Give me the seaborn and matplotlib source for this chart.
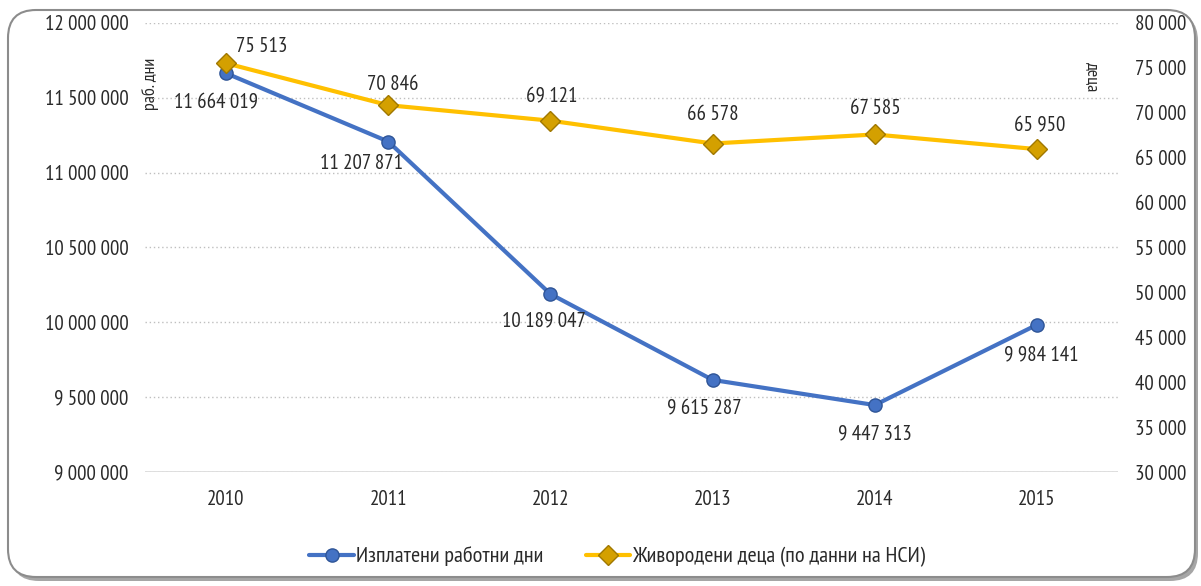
import matplotlib.pyplot as plt
import seaborn as sns
import pandas as pd
import numpy as np
from matplotlib.patches import FancyBboxPatch
from matplotlib.ticker import FuncFormatter

# данни
years = [2010, 2011, 2012, 2013, 2014, 2015]
work_days = [11664019, 11207871, 10189047, 9615287, 9447313, 9984141]
births = [75513, 70846, 69121, 66578, 67585, 65950]
label_days = 'Изплатени работни дни'
label_births = 'Живородени деца (по данни на НСИ)'

df = pd.DataFrame({'year': years, 'days': work_days, 'births': births})

sns.set_theme(style="white")
plt.rcParams['font.family'] = ['PT Sans Narrow', 'Roboto Condensed', 'DejaVu Sans']
plt.rcParams['font.size'] = 15

blue = '#4472C4'
yellow = '#FFC000'
txt = '#2a2a2a'
FS = 15


def fmt(v, pos=None):
    return f'{int(round(v)):,}'.replace(',', ' ')


fig = plt.figure(figsize=(12.01, 5.86), dpi=100)
fig.patch.set_facecolor('white')

# рамка със заоблени ъгли и сянка (в инчове)
shadow = FancyBboxPatch((0.11, 0.05), 11.87, 5.68, boxstyle='round,pad=0,rounding_size=0.28',
                        transform=fig.dpi_scale_trans, facecolor='#a6a6a6', edgecolor='none', zorder=-3)
frame = FancyBboxPatch((0.08, 0.09), 11.87, 5.67, boxstyle='round,pad=0,rounding_size=0.28',
                       transform=fig.dpi_scale_trans, facecolor='white', edgecolor='#8c8c8c',
                       linewidth=1.5, zorder=-2)
fig.patches.extend([shadow, frame])

ax = fig.add_axes([0.1207, 0.1945, 0.8103, 0.7663])
ax.patch.set_alpha(0)
ax2 = ax.twinx()

sns.lineplot(data=df, x='year', y='days', ax=ax, color=blue, linewidth=3,
             marker='o', markersize=9.5, markeredgecolor='#2f5597', markeredgewidth=1,
             label=label_days, legend=False, zorder=3)
sns.lineplot(data=df, x='year', y='births', ax=ax2, color=yellow, linewidth=3,
             marker='D', markersize=10, markerfacecolor='#d4a000', markeredgecolor='#a07800',
             markeredgewidth=1, label=label_births, legend=False, zorder=3)

ax.set_xlim(2009.5, 2015.5)
ax.set_ylim(9000000, 12000000)
ax.set_yticks(np.arange(9000000, 12000001, 500000))
ax2.set_ylim(30000, 80000)
ax2.set_yticks(np.arange(30000, 80001, 5000))
ax.set_xticks(years)
ax.yaxis.set_major_formatter(FuncFormatter(fmt))
ax2.yaxis.set_major_formatter(FuncFormatter(fmt))

ax.grid(axis='y', color='#bfbfbf', linestyle=(0, (1, 2)), linewidth=1)
ax.grid(axis='x', visible=False)
ax2.grid(False)
ax.axhline(9000000, color='#d9d9d9', linewidth=1.2, zorder=1)

for a in (ax, ax2):
    for s in a.spines.values():
        s.set_visible(False)
    a.tick_params(length=0, labelsize=FS, colors=txt)
    a.set_xlabel('')
    a.set_ylabel('')
ax.tick_params(axis='y', pad=12)
ax.tick_params(axis='x', pad=13)
ax2.tick_params(axis='y', pad=12)

# надписи на осите
ax.text(-0.003, 0.864, 'раб. дни', transform=ax.transAxes, rotation=90, ha='left', va='center',
        fontsize=13, color=txt)
ax2.text(0.973, 0.88, 'деца', transform=ax.transAxes, rotation=270, ha='center', va='center',
         fontsize=13, color=txt)

# етикети на стойностите
days_off = [(-7, -21), (-19, -16), (-5, -19), (-6, -21), (0, -21), (3, -22)]
births_off = [(26, 12), (3, 15), (1, 17), (0, 21), (0, 19), (2, 17)]
for (x, y), (dx, dy) in zip(zip(years, work_days), days_off):
    ax.annotate(fmt(y), (x, y), xytext=(dx, dy), textcoords='offset points',
                ha='center', va='center', fontsize=FS, color=txt, zorder=5)
for (x, y), (dx, dy) in zip(zip(years, births), births_off):
    ax2.annotate(fmt(y), (x, y), xytext=(dx, dy), textcoords='offset points',
                 ha='center', va='center', fontsize=FS, color=txt, zorder=5)

h1, l1 = ax.get_legend_handles_labels()
h2, l2 = ax2.get_legend_handles_labels()
fig.legend(h1 + h2, l1 + l2, loc='center', bbox_to_anchor=(0.514, 0.05), ncol=2, frameon=False,
           fontsize=16, handlelength=2.0, columnspacing=1.9, handletextpad=0.1,
           labelcolor=txt)

fig.savefig('out.png', dpi=100)
